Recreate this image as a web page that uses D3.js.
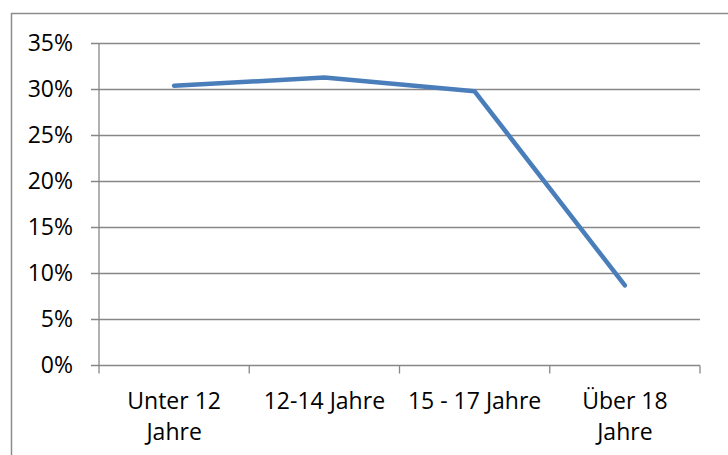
<!DOCTYPE html>
<html lang="de">
<head>
    <meta charset="UTF-8">
    <title>Altersgruppen</title>
    <script src="https://d3js.org/d3.v7.min.js"></script>
    <style>
        body { margin: 0; background: #fff; }
        text { font-family: "Open Sans", sans-serif; font-size: 23px; fill: #000; }
    </style>
</head>
<body>
    <div id="chart"></div>
    <script>
        // data
        const categories = ["Unter 12 Jahre", "12-14 Jahre", "15 - 17 Jahre", "Über 18 Jahre"];
        const labelLines = [["Unter 12", "Jahre"], ["12-14 Jahre"], ["15 - 17 Jahre"], ["Über 18", "Jahre"]];
        const values = [0.304, 0.313, 0.298, 0.087];
        const yTicks = [0, 0.05, 0.10, 0.15, 0.20, 0.25, 0.30, 0.35];

        const W = 728, H = 455;
        const plot = {left: 99, right: 700, top: 43.5, bottom: 365.5};

        const svg = d3.select("#chart")
            .append("svg")
            .attr("width", W)
            .attr("height", H);

        // chart border (cropped at right/bottom)
        svg.append("rect")
            .attr("x", 11.5)
            .attr("y", 13.5)
            .attr("width", 740)
            .attr("height", 470)
            .attr("fill", "none")
            .attr("stroke", "#8c8c8c")
            .attr("stroke-width", 1.5);

        const x = d3.scaleBand()
            .domain(categories)
            .range([plot.left, plot.right])
            .padding(0);

        const y = d3.scaleLinear()
            .domain([0, 0.35])
            .range([plot.bottom, plot.top]);

        // gridlines
        svg.append("g")
            .selectAll("line")
            .data(yTicks)
            .enter()
            .append("line")
            .attr("x1", plot.left - 8)
            .attr("x2", plot.right)
            .attr("y1", d => y(d))
            .attr("y2", d => y(d))
            .attr("stroke", "#878787")
            .attr("stroke-width", 1.3);

        // y axis
        const yAxis = d3.axisLeft(y)
            .tickValues(yTicks)
            .tickFormat(d3.format(".0%"))
            .tickSize(0)
            .tickPadding(26);

        const yG = svg.append("g")
            .attr("transform", `translate(${plot.left},0)`)
            .call(yAxis);
        yG.select(".domain").remove();
        yG.selectAll("text")
            .style("font-family", "'Open Sans', sans-serif")
            .style("font-size", "23px")
            .attr("fill", "#000");

        svg.append("line")
            .attr("x1", plot.left).attr("x2", plot.left)
            .attr("y1", plot.top).attr("y2", plot.bottom + 8)
            .attr("stroke", "#878787")
            .attr("stroke-width", 1.3);

        // x axis ticks at category boundaries
        const bounds = categories.map(c => x(c)).concat([x(categories[categories.length - 1]) + x.bandwidth()]);
        svg.append("g")
            .selectAll("line")
            .data(bounds.slice(1))
            .enter()
            .append("line")
            .attr("x1", d => d).attr("x2", d => d)
            .attr("y1", plot.bottom).attr("y2", plot.bottom + 8)
            .attr("stroke", "#878787")
            .attr("stroke-width", 1.3);

        // x labels
        const xl = svg.append("g")
            .selectAll("text")
            .data(categories)
            .enter()
            .append("text")
            .attr("text-anchor", "middle")
            .attr("x", d => x(d) + x.bandwidth() / 2)
            .attr("y", 409);
        xl.selectAll("tspan")
            .data((d, i) => labelLines[i])
            .enter()
            .append("tspan")
            .attr("x", function() { return d3.select(this.parentNode).attr("x"); })
            .attr("dy", (d, i) => i === 0 ? 0 : 31)
            .text(d => d);

        // line
        const line = d3.line()
            .x((d, i) => x(categories[i]) + x.bandwidth() / 2)
            .y(d => y(d));

        svg.append("path")
            .datum(values)
            .attr("d", line)
            .attr("fill", "none")
            .attr("stroke", "#4a7ebb")
            .attr("stroke-width", 4.5)
            .attr("stroke-linecap", "round")
            .attr("stroke-linejoin", "round");
    </script>
</body>
</html>
